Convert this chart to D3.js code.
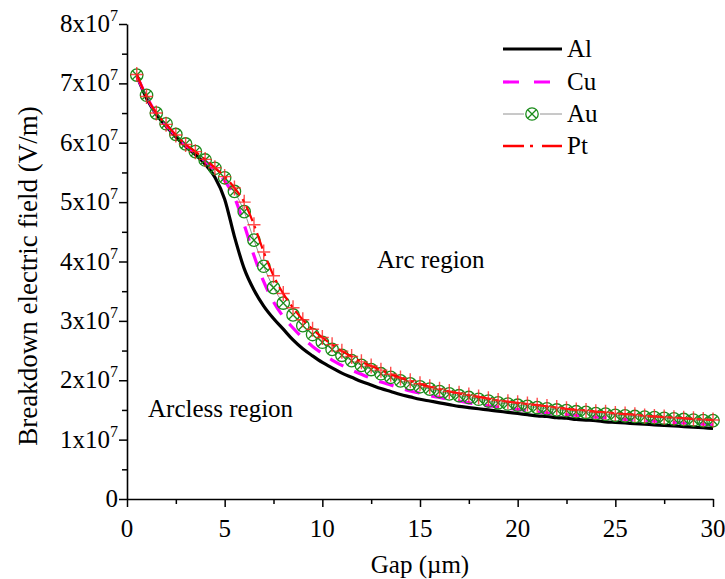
<!DOCTYPE html>
<html><head><meta charset="utf-8">
<script src="https://cdn.jsdelivr.net/npm/d3@7"></script>
<style>body{margin:0;background:#fff}svg{display:block}</style>
</head><body>
<svg id="c" width="725" height="579" font-family="Liberation Serif"></svg>
<script>
const gap = [0.5,1,1.5,2,2.5,3,3.5,4,4.5,5,5.5,6,6.5,7,7.5,8,8.5,9,9.5,10,10.5,11,11.5,12,12.5,13,13.5,14,14.5,15,15.5,16,16.5,17,17.5,18,18.5,19,19.5,20,20.5,21,21.5,22,22.5,23,23.5,24,24.5,25,25.5,26,26.5,27,27.5,28,28.5,29,29.5,30];
// values in units of 1e7 V/m
const Al = [7.13,6.75,6.48,6.28,6.10,5.94,5.80,5.64,5.42,5.05,4.42,3.88,3.52,3.25,3.04,2.86,2.68,2.53,2.41,2.30,2.21,2.12,2.05,1.98,1.92,1.86,1.81,1.76,1.72,1.68,1.65,1.62,1.59,1.56,1.54,1.52,1.50,1.48,1.46,1.44,1.42,1.40,1.39,1.37,1.36,1.34,1.33,1.32,1.30,1.29,1.28,1.27,1.26,1.25,1.24,1.23,1.22,1.21,1.20,1.19];
const Cu = [7.13,6.78,6.49,6.30,6.12,5.96,5.83,5.69,5.54,5.36,5.08,4.62,4.10,3.66,3.32,3.07,2.88,2.71,2.57,2.45,2.34,2.25,2.17,2.10,2.03,1.97,1.92,1.87,1.82,1.78,1.74,1.71,1.68,1.65,1.62,1.59,1.57,1.55,1.53,1.51,1.49,1.47,1.45,1.44,1.42,1.41,1.39,1.38,1.37,1.35,1.34,1.33,1.32,1.31,1.30,1.29,1.28,1.27,1.26,1.25];
const Au = [7.14,6.80,6.50,6.32,6.14,5.98,5.85,5.71,5.57,5.41,5.18,4.84,4.36,3.92,3.56,3.30,3.10,2.92,2.77,2.64,2.52,2.42,2.33,2.25,2.18,2.11,2.05,1.99,1.94,1.89,1.85,1.81,1.77,1.74,1.71,1.68,1.65,1.62,1.60,1.58,1.56,1.54,1.52,1.50,1.49,1.47,1.46,1.44,1.43,1.41,1.40,1.39,1.38,1.37,1.36,1.35,1.34,1.33,1.32,1.32];
const Pt = [7.15,6.78,6.50,6.31,6.13,5.97,5.85,5.72,5.58,5.43,5.24,5.00,4.62,4.16,3.76,3.46,3.22,3.02,2.86,2.72,2.60,2.49,2.40,2.31,2.24,2.17,2.10,2.04,1.99,1.94,1.89,1.85,1.81,1.78,1.75,1.72,1.69,1.66,1.64,1.62,1.60,1.58,1.56,1.54,1.52,1.50,1.49,1.47,1.46,1.44,1.43,1.42,1.40,1.39,1.38,1.37,1.36,1.35,1.34,1.33];
const seriesNames = ["Al","Cu","Au","Pt"];
const xTicks = [0,5,10,15,20,25,30];
const yTicks = [0,1,2,3,4,5,6,7,8];
const yTickLabels = ["0","1x10","2x10","3x10","4x10","5x10","6x10","7x10","8x10"];

const svg = d3.select("#c");
const L=127, R=713, T=24, B=499;
const x = d3.scaleLinear().domain([0,30]).range([L,R]);
const y = d3.scaleLinear().domain([0,8]).range([B,T]);

// axes
const gx = svg.append("g").attr("transform",`translate(0,${B})`)
  .call(d3.axisBottom(x).tickValues(d3.range(0,30.1,2.5)).tickFormat("").tickSize(0).tickSizeOuter(0));
gx.selectAll(".tick line").attr("y2",d=>d%5===0?8:5).attr("stroke-width",1.5);
gx.select(".domain").attr("stroke-width",1.6);
const gy = svg.append("g").attr("transform",`translate(${L},0)`)
  .call(d3.axisLeft(y).tickValues(d3.range(0,8.01,0.5)).tickFormat("").tickSize(0).tickSizeOuter(0));
gy.selectAll(".tick line").attr("x2",d=>Number.isInteger(d)?-8:-5).attr("stroke-width",1.5);
gy.select(".domain").attr("stroke-width",1.6);

function txt(sel){ return sel.attr("font-family","Liberation Serif").attr("fill","#000"); }

const tg = svg.append("g");
txt(tg.append("g").selectAll("text").data(xTicks).join("text")
  .attr("x",d=>x(d)).attr("y",B+38).attr("text-anchor","middle").attr("font-size",25).text(d=>d));
const yl = txt(tg.append("g").selectAll("text").data(yTicks).join("text")
  .attr("x",L-9).attr("y",d=>y(d)+8).attr("text-anchor","end").attr("font-size",25));
yl.each(function(d,i){
  const t=d3.select(this);
  t.append("tspan").text(yTickLabels[i]);
  if(d!==0) t.append("tspan").attr("dy",-11).attr("font-size",16).text("7");
});

txt(tg.append("text").attr("x",x(15)).attr("y",573).attr("text-anchor","middle").attr("font-size",25).text("Gap (\u00b5m)"));
txt(tg.append("text").attr("transform",`translate(37,276) rotate(-90)`).attr("text-anchor","middle").attr("font-size",27).text("Breakdown electric field (V/m)"));
txt(tg.append("text").attr("x",377).attr("y",268).attr("font-size",25).text("Arc region"));
txt(tg.append("text").attr("x",148).attr("y",417).attr("font-size",25).text("Arcless region"));

const line = d3.line().x((d,i)=>x(gap[i])).y(d=>y(d)).curve(d3.curveMonotoneX);
svg.append("path").attr("d",line(Al)).attr("fill","none").attr("stroke","#000").attr("stroke-width",3.2);
svg.append("path").attr("d",line(Cu)).attr("fill","none").attr("stroke","#ff00ff").attr("stroke-width",3.2).attr("stroke-dasharray","15,12");
svg.append("path").attr("d",line(Au)).attr("fill","none").attr("stroke","#777").attr("stroke-width",0.8);
const au = svg.append("g").selectAll("g").data(Au).join("g").attr("transform",(d,i)=>`translate(${x(gap[i])},${y(d)})`)
  .attr("stroke","#1a8c1a").attr("fill","none").attr("stroke-width",1.3);
au.append("circle").attr("r",6.2);
au.append("path").attr("d","M-4.3,-4.3L4.3,4.3M-4.3,4.3L4.3,-4.3");
svg.append("path").attr("d",line(Pt)).attr("fill","none").attr("stroke","#ff0000").attr("stroke-width",2.2).attr("stroke-dasharray","16,5,3,5");
svg.append("g").selectAll("path").data(Pt).join("path")
  .attr("d",(d,i)=>{const cx=x(gap[i]),cy=y(d);return `M${cx-6.5},${cy}H${cx+6.5}M${cx},${cy-7.5}V${cy+7.5}`;})
  .attr("stroke","#ff2020").attr("stroke-opacity",0.8).attr("stroke-width",1.4);

// legend
const lg = svg.append("g");
const rows=[49,82,114,146];
seriesNames.forEach((n,i)=>{
  const yy=rows[i];
  const p=lg.append("path").attr("d",`M503,${yy}H562`).attr("fill","none");
  if(n==="Al") p.attr("stroke","#000").attr("stroke-width",3.2);
  if(n==="Cu") p.attr("stroke","#ff00ff").attr("stroke-width",3.2).attr("stroke-dasharray","16,15");
  if(n==="Au"){ p.attr("stroke","#777").attr("stroke-width",0.8);
    const m=lg.append("g").attr("transform",`translate(532,${yy})`).attr("stroke","#1a8c1a").attr("fill","none").attr("stroke-width",1.3);
    m.append("rect").attr("x",-8).attr("y",-8).attr("width",16).attr("height",16).attr("fill","#fff").attr("stroke","none");
    m.append("circle").attr("r",6.2); m.append("path").attr("d","M-4.3,-4.3L4.3,4.3M-4.3,4.3L4.3,-4.3");}
  if(n==="Pt") p.attr("stroke","#ff0000").attr("stroke-width",2.5).attr("stroke-dasharray","21,6,3,9,21");
  txt(lg.append("text").attr("x",567).attr("y",yy+8).attr("font-size",25).text(n));
});
</script>
</body></html>
